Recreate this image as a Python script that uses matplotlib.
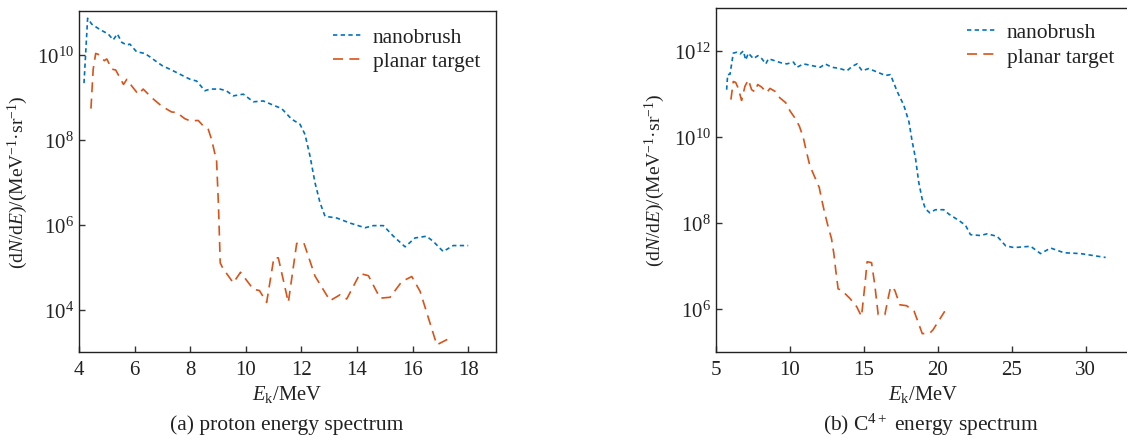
import numpy as np
import matplotlib
matplotlib.use("Agg")
import matplotlib.pyplot as plt
from matplotlib.ticker import NullLocator

plt.rcParams["font.family"] = ["Liberation Serif", "DejaVu Serif"]
plt.rcParams["mathtext.fontset"] = "custom"
plt.rcParams["mathtext.rm"] = "Liberation Serif"
plt.rcParams["mathtext.it"] = "Liberation Serif:italic"
plt.rcParams["text.color"] = "#222222"
plt.rcParams["axes.labelcolor"] = "#222222"
plt.rcParams["xtick.labelcolor"] = "#222222"
plt.rcParams["ytick.labelcolor"] = "#222222"

# --- (a) proton spectrum, values as log10(dN/dE) ---
proton_nano_E = [4.18, 4.31, 4.46, 4.76, 5.05, 5.23, 5.38, 5.54, 5.72, 5.83, 6.07, 6.37, 6.55,
                 6.8, 7.0, 7.33, 7.69, 8.0, 8.23, 8.53, 8.71, 9.07, 9.3, 9.55, 9.91, 10.27,
                 10.63, 10.99, 11.29, 11.65, 11.95, 12.13, 12.31, 12.49, 12.67, 12.85, 13.27,
                 13.75, 14.29, 14.59, 14.95, 15.31, 15.73, 16.09, 16.5, 16.74, 17.1, 17.46, 18.0]
proton_nano_log = [9.34, 10.87, 10.73, 10.6, 10.5, 10.36, 10.5, 10.3, 10.24, 10.26, 10.08, 10.04,
                   9.96, 9.84, 9.75, 9.65, 9.53, 9.43, 9.39, 9.16, 9.2, 9.2, 9.16, 9.04, 9.08,
                   8.9, 8.92, 8.82, 8.74, 8.49, 8.37, 8.13, 7.62, 6.99, 6.52, 6.2, 6.16, 6.04,
                   5.93, 5.98, 5.98, 5.73, 5.48, 5.69, 5.73, 5.61, 5.37, 5.51, 5.51]

proton_planar_E = [4.43, 4.51, 4.6, 4.69, 4.91, 5.0, 5.18, 5.32, 5.6, 5.72, 5.9, 6.13, 6.31,
                   6.61, 6.97, 7.33, 7.51, 7.81, 8.0, 8.29, 8.47, 8.65, 8.77, 8.95, 9.02, 9.08,
                   9.17, 9.55, 9.81, 10.27, 10.49, 10.75, 11.01, 11.17, 11.53, 11.83, 12.09,
                   12.49, 13.03, 13.39, 13.63, 14.11, 14.41, 14.83, 15.19, 15.61, 15.97, 16.27,
                   16.87, 17.35]
proton_planar_log = [8.74, 9.67, 10.04, 10.02, 9.87, 9.91, 9.67, 9.65, 9.31, 9.43, 9.27, 9.08,
                     9.2, 9.0, 8.8, 8.66, 8.65, 8.5, 8.45, 8.46, 8.33, 8.25, 8.01, 7.5, 6.4, 5.1,
                     4.98, 4.63, 4.88, 4.48, 4.45, 4.17, 5.22, 5.22, 4.17, 5.56, 5.57, 4.79, 4.21,
                     4.35, 4.25, 4.85, 4.8, 4.27, 4.29, 4.66, 4.78, 4.43, 3.17, 3.33]

# --- (b) C4+ spectrum ---
carbon_nano_E = [5.72, 5.79, 5.95, 6.17, 6.4, 6.63, 6.85, 7.01, 7.19, 7.53, 7.83, 8.1, 8.37,
                 8.55, 9.0, 9.45, 9.79, 10.24, 10.47, 10.92, 11.48, 12.05, 12.38, 12.84, 13.29,
                 13.86, 14.2, 14.54, 14.88, 15.33, 15.9, 16.46, 16.8, 17.25, 17.7, 18.05, 18.26,
                 18.49, 18.71, 18.94, 19.16, 19.45, 19.84, 20.4, 20.74, 21.42, 21.87, 22.21,
                 22.89, 23.34, 24.02, 24.59, 25.15, 26.28, 26.95, 27.63, 28.53, 29.66, 31.35]
carbon_nano_log = [11.09, 11.44, 11.45, 11.94, 11.96, 11.92, 11.99, 11.78, 11.94, 11.81, 11.88,
                   11.81, 11.69, 11.81, 11.76, 11.71, 11.69, 11.73, 11.61, 11.69, 11.65, 11.61,
                   11.69, 11.61, 11.59, 11.53, 11.63, 11.69, 11.53, 11.58, 11.5, 11.42, 11.44,
                   11.05, 10.73, 10.34, 9.9, 9.5, 8.94, 8.55, 8.32, 8.23, 8.3, 8.3, 8.2, 8.05,
                   7.94, 7.72, 7.7, 7.74, 7.68, 7.46, 7.42, 7.45, 7.28, 7.41, 7.3, 7.28, 7.19]

carbon_planar_E = [6.01, 6.17, 6.33, 6.51, 6.73, 6.96, 7.19, 7.41, 7.64, 7.82, 8.09, 8.43, 8.65,
                   9.0, 9.32, 9.71, 10.0, 10.3, 10.63, 10.9, 11.13, 11.35, 11.69, 11.98, 12.14,
                   12.36, 12.59, 12.81, 12.97, 13.11, 13.26, 13.49, 14.05, 14.51, 14.84, 15.07,
                   15.22, 15.52, 15.74, 15.97, 16.42, 16.64, 16.81, 17.09, 17.43, 17.88, 18.4,
                   18.95, 19.46, 19.68, 20.47]
carbon_planar_log = [10.86, 11.28, 11.26, 11.12, 10.84, 11.17, 11.32, 11.09, 11.04, 11.21, 11.15,
                     11.02, 11.12, 11.05, 10.9, 10.79, 10.6, 10.45, 10.25, 9.98, 9.63, 9.32, 9.05,
                     8.82, 8.55, 8.21, 7.9, 7.63, 7.28, 6.86, 6.46, 6.43, 6.24, 6.05, 5.82, 6.55,
                     7.09, 7.07, 6.55, 5.86, 5.86, 6.24, 6.51, 6.43, 6.09, 6.07, 5.94, 5.42, 5.43,
                     5.51, 5.94]

labels = ["nanobrush", "planar target"]
blue = "#0072BD"
red = "#D95319"
fs = 15.5

fig = plt.figure(figsize=(11.27, 4.39), dpi=100)
ax1 = fig.add_axes([0.0701, 0.1959, 0.370, 0.7768])
ax2 = fig.add_axes([0.6353, 0.1966, 0.3674, 0.784])

panels = [
    (ax1, proton_nano_E, proton_nano_log, proton_planar_E, proton_planar_log,
     (4, 19), (1e3, 1.1e11), [4, 6, 8, 10, 12, 14, 16, 18], [1e4, 1e6, 1e8, 1e10], 0.609, 0.953),
    (ax2, carbon_nano_E, carbon_nano_log, carbon_planar_E, carbon_planar_log,
     (5, 33), (1e5, 1e13), [5, 10, 15, 20, 25, 30], [1e6, 1e8, 1e10, 1e12], 0.606, 0.957),
]

for ax, nE, nlog, pE, plog, xlim, ylim, xt, yt, lx, ly in panels:
    ax.plot(nE, 10 ** np.array(nlog), color=blue, lw=1.2,
            linestyle=(0, (2.6, 2.0)), label=labels[0])
    ax.plot(pE, 10 ** np.array(plog), color=red, lw=1.2,
            linestyle=(0, (6, 3.8)), label=labels[1])
    ax.set_yscale("log")
    ax.set_xlim(*xlim)
    ax.set_ylim(*ylim)
    ax.set_xticks(xt)
    ax.set_yticks(yt)
    ax.yaxis.set_minor_locator(NullLocator())
    ax.tick_params(direction="in", length=4, width=1, labelsize=15, color="#333333")
    ax.tick_params(axis="x", pad=6)
    for s in ax.spines.values():
        s.set_linewidth(1.0)
        s.set_color("#222222")
    ax.set_xlabel(r"$E_{\mathrm{k}}$/MeV", fontsize=14.8, labelpad=3)
    ax.set_ylabel(r"(d$N$/d$E$)/(MeV$^{-1}$·sr$^{-1}$)", fontsize=14, labelpad=5)
    ax.legend(frameon=False, loc="upper left", bbox_to_anchor=(lx, ly),
              fontsize=fs, handlelength=1.4, handletextpad=0.45, labelspacing=0.2,
              borderpad=0, borderaxespad=0)

fig.text(287 / 1127, 1 - 425 / 439, "(a) proton energy spectrum", ha="center", va="center",
         fontsize=fs)
fig.text(931 / 1127, 1 - 425 / 439, r"(b) C$^{4+}$ energy spectrum", ha="center",
         va="center", fontsize=fs)

fig.savefig("out.png", dpi=100)
